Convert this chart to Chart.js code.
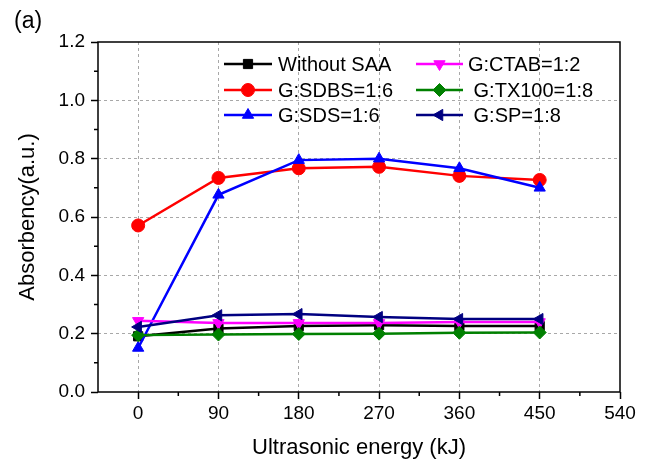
<!DOCTYPE html>
<html>
<head>
<meta charset="utf-8">
<script src="https://cdn.jsdelivr.net/npm/chart.js@4.4.0/dist/chart.umd.min.js"></script>
<style>
  body { margin: 0; background: #fff; }
</style>
</head>
<body>
<canvas id="myChart" width="649" height="465"></canvas>
<script>
const energy = [0, 90, 180, 270, 360, 450];
const withoutSAA = [0.191, 0.218, 0.226, 0.229, 0.226, 0.226];
const sdbs = [0.571, 0.734, 0.767, 0.772, 0.741, 0.727];
const sds = [0.151, 0.676, 0.795, 0.800, 0.767, 0.700];
const ctab = [0.244, 0.237, 0.237, 0.237, 0.240, 0.240];
const tx100 = [0.195, 0.197, 0.199, 0.200, 0.203, 0.204];
const sp = [0.223, 0.263, 0.267, 0.257, 0.250, 0.250];

const seriesLabels = ['Without SAA', 'G:SDBS=1:6', 'G:SDS=1:6', 'G:CTAB=1:2', ' G:TX100=1:8', ' G:SP=1:8'];
const xTicks = [0, 90, 180, 270, 360, 450, 540];
const yTicks = [0, 0.2, 0.4, 0.6, 0.8, 1.0, 1.2];
const xMinor = [45, 135, 225, 315, 405, 495];
const yMinor = [0.1, 0.3, 0.5, 0.7, 0.9, 1.1];

const FONT = "'Liberation Sans', Arial, sans-serif";

function pts(values) {
  return energy.map((e, i) => ({ x: e, y: values[i] }));
}

function series(label, values, color, style, rotation, idx) {
  return {
    label: label,
    data: pts(values),
    borderColor: color,
    backgroundColor: color,
    borderWidth: 2.5,
    pointStyle: style,
    rotation: rotation,
    pointRadius: 6.5,
    pointBorderWidth: 1,
    order: 5 - idx
  };
}

const data = {
  datasets: [
    series(seriesLabels[0], withoutSAA, '#000000', 'rect', 0, 0),
    series(seriesLabels[1], sdbs, '#ff0000', 'circle', 0, 1),
    series(seriesLabels[2], sds, '#0000ff', 'triangle', 0, 2),
    series(seriesLabels[3], ctab, '#ff00ff', 'triangle', 180, 3),
    series(seriesLabels[4], tx100, '#008000', 'rectRot', 0, 4),
    series(seriesLabels[5], sp, '#000080', 'triangle', -90, 5)
  ]
};

// frame, minor ticks, panel letter and two-column legend
const extras = {
  id: 'extras',
  afterDatasetsDraw(chart) {
    const ctx = chart.ctx;
    const a = chart.chartArea;
    const xs = chart.scales.x;
    const ys = chart.scales.y;
    ctx.save();
    ctx.strokeStyle = '#000';
    ctx.lineWidth = 1.5;
    ctx.strokeRect(a.left, a.top, a.right - a.left, a.bottom - a.top);
    ctx.beginPath();
    xMinor.forEach(v => {
      const px = xs.getPixelForValue(v);
      ctx.moveTo(px, a.bottom);
      ctx.lineTo(px, a.bottom + 4);
    });
    yMinor.forEach(v => {
      const py = ys.getPixelForValue(v);
      ctx.moveTo(a.left, py);
      ctx.lineTo(a.left - 4, py);
    });
    ctx.stroke();

    ctx.fillStyle = '#000';
    ctx.font = '23px ' + FONT;
    ctx.textBaseline = 'middle';
    ctx.textAlign = 'left';
    ctx.fillText('(a)', 14, 22);

    // legend
    const cols = [{ x1: 224, x2: 272, tx: 278 }, { x1: 416, x2: 463, tx: 468 }];
    const rows = [64, 90, 115];
    ctx.font = '20px ' + FONT;
    chart.data.datasets.forEach((ds, i) => {
      const c = cols[Math.floor(i / 3)];
      const y = rows[i % 3];
      ctx.strokeStyle = ds.borderColor;
      ctx.fillStyle = ds.backgroundColor;
      ctx.lineWidth = 2.5;
      ctx.beginPath();
      ctx.moveTo(c.x1, y);
      ctx.lineTo(c.x2, y);
      ctx.stroke();
      ctx.lineWidth = 1;
      Chart.helpers.drawPoint(ctx, {
        pointStyle: ds.pointStyle,
        rotation: ds.rotation,
        radius: 6.5,
        borderWidth: 1
      }, (c.x1 + c.x2) / 2, y);
      ctx.fillStyle = '#000';
      ctx.fillText(ds.label, c.tx, y + 1);
    });
    ctx.restore();
  }
};

const options = {
  responsive: false,
  animation: false,
  layout: { padding: { top: 42, right: 29, left: 0, bottom: 0 } },
  plugins: {
    legend: { display: false },
    tooltip: { enabled: false }
  },
  scales: {
    x: {
      type: 'linear',
      min: -45,
      max: 540,
      afterBuildTicks: s => { s.ticks = xTicks.map(v => ({ value: v })); },
      afterFit: s => { s.height = 73; },
      ticks: {
        color: '#000',
        font: { family: FONT, size: 19 },
        padding: 3,
        maxRotation: 0
      },
      grid: {
        color: c => (c.tick && c.tick.value === 540) ? 'rgba(0,0,0,0)' : '#a8a8a8',
        lineWidth: 1,
        tickColor: '#000',
        tickLength: 7,
        tickWidth: 1.5,
        tickBorderDash: []
      },
      border: { display: false, dash: [3, 3] },
      title: {
        display: true,
        text: 'Ultrasonic energy (kJ)',
        color: '#000',
        font: { family: FONT, size: 22 },
        padding: { top: 0, bottom: 4 }
      }
    },
    y: {
      min: 0,
      max: 1.2,
      afterBuildTicks: s => { s.ticks = yTicks.map(v => ({ value: v })); },
      afterFit: s => { s.width = 98; },
      ticks: {
        color: '#000',
        font: { family: FONT, size: 19 },
        padding: 6,
        callback: v => v.toFixed(1)
      },
      grid: {
        color: c => (c.tick && (c.tick.value === 0 || c.tick.value === 1.2)) ? 'rgba(0,0,0,0)' : '#a8a8a8',
        lineWidth: 1,
        tickColor: '#000',
        tickLength: 7,
        tickWidth: 1.5,
        tickBorderDash: []
      },
      border: { display: false, dash: [3, 3] },
      title: {
        display: true,
        text: 'Absorbency(a.u.)',
        color: '#000',
        font: { family: FONT, size: 22 },
        padding: { top: 15, bottom: 0 }
      }
    }
  }
};

const config = {
  type: 'line',
  data: data,
  options: options,
  plugins: [extras]
};

const myChart = new Chart(document.getElementById('myChart'), config);
</script>
</body>
</html>
